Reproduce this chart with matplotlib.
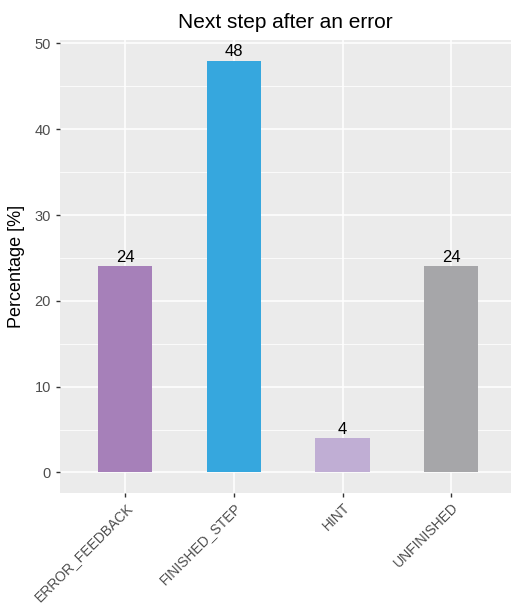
import numpy as np
import matplotlib.pyplot as plt

plt.rcParams["font.family"] = ["Liberation Sans", "DejaVu Sans"]

# Next step taken after an error, in percent
steps = ["ERROR_FEEDBACK", "FINISHED_STEP", "HINT", "UNFINISHED"]
shares = [24, 48, 4, 24]
bar_colors = ["#a680b9", "#36a7de", "#c0aed4", "#a6a6a9"]

fig = plt.figure(figsize=(5.11, 6.08), dpi=100)
ax = fig.add_axes([60 / 511, 1 - 493 / 608, 1 - 60 / 511, 453 / 608])

ax.set_facecolor("#ebebeb")
for s in ax.spines.values():
    s.set_visible(False)

x = np.arange(1, len(steps) + 1)
ax.bar(x, shares, width=0.5, color=bar_colors, zorder=3)
for xi, v in zip(x, shares):
    ax.text(xi, v + 0.15, str(v), ha="center", va="bottom", fontsize=12,
            color="black", zorder=4)

ax.set_xlim(0.4, 4.55)
ax.set_ylim(-2.4, 50.4)

# ggplot-like grid: major and minor white lines
ax.set_yticks(np.arange(0, 51, 10))
ax.set_yticks(np.arange(5, 50, 10), minor=True)
ax.set_xticks(x)
ax.set_xticklabels(steps, rotation=45, ha="right", rotation_mode="anchor",
                   fontsize=10)
ax.grid(which="major", color="white", linewidth=1.1, zorder=0)
ax.grid(which="minor", axis="y", color="white", linewidth=0.55, zorder=0)
ax.set_axisbelow(True)

ax.tick_params(axis="both", which="major", length=3, width=1, color="#333333",
               labelcolor="#4d4d4d")
ax.tick_params(axis="y", labelsize=10.5)
ax.tick_params(axis="x", pad=2)
ax.tick_params(which="minor", length=0)

ax.set_ylabel("Percentage [%]", fontsize=13, color="black", labelpad=7)
ax.set_title("Next step after an error", fontsize=15, color="black", pad=9)

fig.savefig("out.png", dpi=100)
